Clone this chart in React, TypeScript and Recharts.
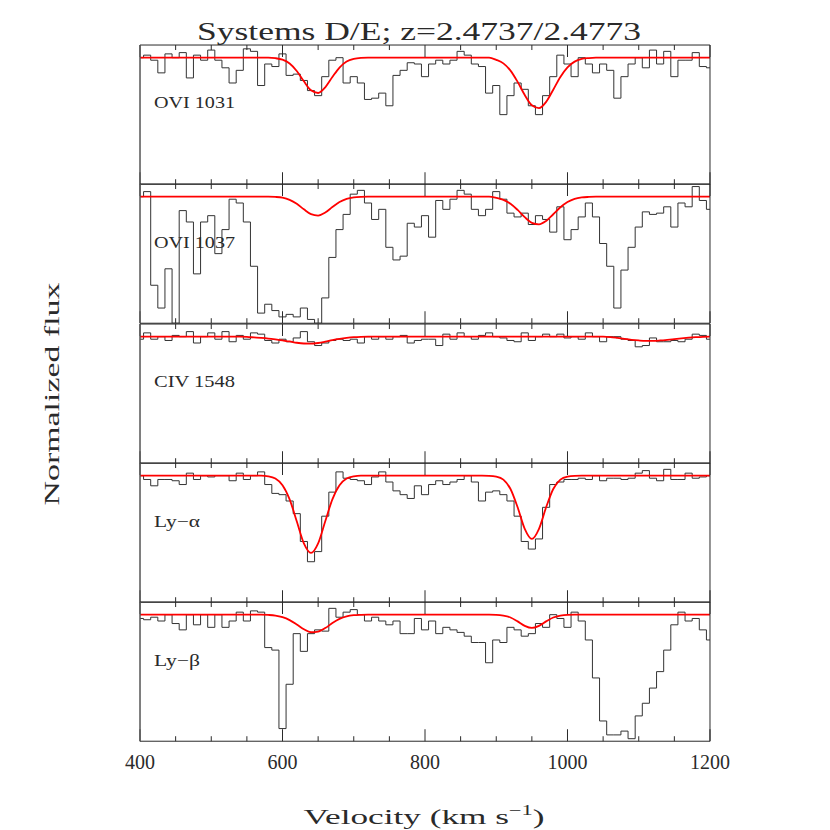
import { LineChart, Line, XAxis, YAxis } from 'recharts';

// ── data ──────────────────────────────────────────────────────────────────────

const VELOCITY = [
  400, 410, 420, 430, 440, 450, 460, 470, 480, 490,
  500, 510, 520, 530, 540, 550, 560, 570, 580, 590,
  600, 610, 620, 630, 640, 650, 660, 670, 680, 690,
  700, 710, 720, 730, 740, 750, 760, 770, 780, 790,
  800, 810, 820, 830, 840, 850, 860, 870, 880, 890,
  900, 910, 920, 930, 940, 950, 960, 970, 980, 990,
  1000, 1010, 1020, 1030, 1040, 1050, 1060, 1070, 1080, 1090,
  1100, 1110, 1120, 1130, 1140, 1150, 1160, 1170, 1180, 1190,
  1200,
];

const MINOR_TICKS = [450, 500, 550, 650, 700, 750, 850, 900, 950, 1050, 1100, 1150];
const MAJOR_TICKS = [400, 600, 800, 1000, 1200];

// OVI 1031
const FLUX_OVI1031 = [
  1.0, 1.02, 0.98, 0.88, 1.03, 1.0, 1.04, 0.84, 1.02, 0.98,
  1.06, 0.98, 0.92, 0.8, 0.9, 1.07, 1.05, 0.78, 0.95, 0.93,
  1.03, 0.86, 0.87, 0.82, 0.74, 0.7, 0.85, 0.98, 1.0, 0.8,
  0.85, 0.8, 0.67, 0.68, 0.72, 0.62, 0.86, 0.9, 0.96, 0.95,
  0.85, 0.95, 0.98, 0.95, 0.98, 1.05, 1.02, 0.95, 0.93, 0.72,
  0.78, 0.55, 0.7, 0.8, 0.75, 0.62, 0.55, 0.7, 0.85, 1.02,
  0.95, 0.85, 1.0, 0.95, 0.88, 0.95, 0.9, 0.68, 0.85, 0.95,
  1.0, 0.92, 1.06, 0.95, 1.05, 0.85, 0.98, 0.98, 1.04, 0.93,
  0.92,
];
const MODEL_OVI1031 = [
  1, 1, 1, 1, 1, 1, 1, 1, 1, 1,
  1, 1, 1, 1, 1, 1, 1, 1, 1, 0.996,
  0.984, 0.954, 0.895, 0.813, 0.742, 0.721, 0.766, 0.847, 0.922, 0.969,
  0.99, 0.998, 1, 1, 1, 1, 1, 1, 1, 1,
  1, 1, 1, 1, 1, 1, 1, 1, 1, 1,
  0.983, 0.955, 0.898, 0.809, 0.705, 0.624, 0.602, 0.651, 0.747, 0.848,
  0.924, 0.969, 0.99, 0.997, 1, 1, 1, 1, 1, 1,
  1, 1, 1, 1, 1, 1, 1, 1, 1, 1,
  1,
];

// OVI 1037
const FLUX_OVI1037 = [
  1.0, 1.04, 0.3, 0.12, 0.43, 0.0, 0.89, 0.8, 0.39, 0.8,
  0.85, 0.55, 0.74, 0.98, 0.95, 0.8, 0.45, 0.08, 0.15, 0.1,
  0.05, 0.07, 0.05, 0.12, 0.03, 0.0, 0.2, 0.52, 0.74, 0.86,
  1.02, 1.05, 0.95, 0.82, 0.9, 0.6, 0.5, 0.53, 0.79, 0.76,
  0.85, 0.68, 0.97, 0.9, 0.98, 1.05, 1.02, 0.9, 0.85, 0.9,
  1.04, 0.98, 0.87, 0.84, 0.87, 0.78, 0.85, 0.82, 0.72, 0.92,
  0.66, 0.74, 0.84, 0.95, 0.84, 0.63, 0.45, 0.12, 0.42, 0.6,
  0.76, 0.88, 0.86, 0.87, 0.92, 0.76, 0.95, 0.92, 1.08, 0.97,
  0.9,
];
const MODEL_OVI1037 = [
  1, 1, 1, 1, 1, 1, 1, 1, 1, 1,
  1, 1, 1, 1, 1, 1, 1, 1, 1, 0.998,
  0.992, 0.975, 0.944, 0.9, 0.862, 0.851, 0.875, 0.918, 0.958, 0.983,
  0.995, 0.999, 1, 1, 1, 1, 1, 1, 1, 1,
  1, 1, 1, 1, 1, 1, 1, 1, 1, 1,
  0.991, 0.975, 0.944, 0.895, 0.838, 0.793, 0.781, 0.808, 0.861, 0.916,
  0.958, 0.983, 0.994, 0.998, 1, 1, 1, 1, 1, 1,
  1, 1, 1, 1, 1, 1, 1, 1, 1, 1,
  1,
];

// CIV 1548
const FLUX_CIV1548 = [
  0.98, 1.03, 0.98, 1.0, 0.97, 1.01, 1.0, 1.04, 0.95, 1.0,
  1.03, 0.98, 1.04, 0.96, 1.01, 0.98, 1.03, 1.02, 0.97, 0.95,
  0.98, 0.96, 0.99, 1.04, 0.96, 0.93, 0.95, 0.97, 0.98, 0.97,
  0.98, 0.95, 1.0, 0.98, 1.0, 0.98, 1.0, 1.01, 0.95, 0.97,
  0.98, 0.98, 0.93, 1.02, 0.98, 1.03, 1.0, 0.98, 1.01, 1.03,
  1.0, 0.99, 0.97, 0.96, 1.03, 0.97, 1.0, 1.02, 1.0, 1.02,
  0.99, 1.0, 0.98, 1.03, 1.0, 0.96, 1.0, 1.0, 0.98, 0.97,
  0.92, 0.93, 0.99, 0.96, 0.96, 0.97, 0.96, 0.98, 1.02, 1.01,
  0.98,
];
const MODEL_CIV1548 = [
  1, 1, 1, 1, 1, 1, 1, 1, 1, 1,
  1, 1, 1, 1, 1, 0.998, 0.994, 0.99, 0.985, 0.978,
  0.97, 0.962, 0.952, 0.946, 0.945, 0.95, 0.96, 0.972, 0.982, 0.99,
  0.996, 0.999, 1, 1, 1, 1, 1, 1, 1, 1,
  1, 1, 1, 1, 1, 1, 1, 1, 1, 1,
  1, 1, 1, 1, 1, 1, 1, 1, 1, 1,
  1, 1, 1, 1, 1, 1, 0.997, 0.99, 0.982, 0.975,
  0.97, 0.967, 0.967, 0.97, 0.975, 0.981, 0.987, 0.992, 0.996, 0.999,
  1,
];

// Ly-alpha
const FLUX_LYA = [
  1.0, 0.97, 0.92, 0.97, 0.97, 0.96, 0.93, 1.02, 0.97, 1.0,
  0.99, 1.0, 1.0, 0.96, 1.02, 0.97, 1.0, 1.03, 0.93, 0.86,
  0.85, 0.8, 0.7, 0.48, 0.32, 0.4, 0.68, 0.87, 1.03, 0.98,
  0.97, 0.96, 0.93, 0.99, 1.03, 0.95, 0.88, 0.85, 0.82, 0.92,
  0.85, 0.93, 0.96, 0.93, 0.95, 0.97, 1.0, 0.95, 0.8, 0.87,
  0.88, 0.85, 0.8, 0.68, 0.48, 0.42, 0.5, 0.75, 0.93, 0.95,
  0.97, 0.97, 0.98, 0.97, 1.0, 0.96, 0.98, 0.98, 0.97, 0.98,
  1.02, 1.04, 0.98, 0.96, 1.05, 0.97, 0.97, 1.02, 0.98, 0.99,
  1.0,
];
const MODEL_LYA = [
  1, 1, 1, 1, 1, 1, 1, 1, 1, 1,
  1, 1, 1, 1, 1, 1, 1, 1, 0.995, 0.977,
  0.925, 0.813, 0.64, 0.465, 0.39, 0.465, 0.64, 0.813, 0.925, 0.977,
  0.995, 1, 1, 1, 1, 1, 1, 1, 1, 1,
  1, 1, 1, 1, 1, 1, 1, 1, 1, 0.999,
  0.993, 0.969, 0.895, 0.75, 0.58, 0.5, 0.58, 0.75, 0.895, 0.969,
  0.993, 0.999, 1, 1, 1, 1, 1, 1, 1, 1,
  1, 1, 1, 1, 1, 1, 1, 1, 1, 1,
  1,
];

// Ly-beta
const FLUX_LYB = [
  0.97, 0.96, 0.98, 0.95, 1.0, 0.93, 0.88, 1.0, 0.92, 1.0,
  0.9, 1.0, 0.9, 0.95, 1.02, 0.95, 1.03, 1.02, 0.74, 0.72,
  0.1, 0.45, 0.85, 0.71, 0.85, 0.88, 0.87, 1.05, 0.98, 1.02,
  1.04, 1.0, 0.95, 0.98, 0.95, 0.92, 0.95, 0.85, 0.85, 0.97,
  0.88, 0.95, 0.85, 0.9, 0.88, 0.86, 0.83, 0.78, 0.78, 0.62,
  0.8, 0.78, 0.9, 0.88, 0.83, 0.85, 0.93, 0.9, 1.0, 0.97,
  0.9, 1.02, 0.95, 0.8, 0.5, 0.16, 0.05, 0.05, 0.08, 0.02,
  0.2, 0.3, 0.42, 0.55, 0.72, 0.92, 1.02, 0.95, 0.97, 0.88,
  0.8,
];
const MODEL_LYB = [
  1, 1, 1, 1, 1, 1, 1, 1, 1, 1,
  1, 1, 1, 1, 1, 1, 1, 1, 0.998, 0.993,
  0.98, 0.957, 0.923, 0.885, 0.861, 0.866, 0.894, 0.934, 0.967, 0.987,
  0.996, 0.999, 1, 1, 1, 1, 1, 1, 1, 1,
  1, 1, 1, 1, 1, 1, 1, 1, 1, 1,
  0.999, 0.993, 0.978, 0.947, 0.912, 0.895, 0.912, 0.947, 0.978, 0.993,
  0.999, 1, 1, 1, 1, 1, 1, 1, 1, 1,
  1, 1, 1, 1, 1, 1, 1, 1, 1, 1,
  1,
];

const PANELS = [
  { label: 'OVI 1031', labelW: 81, flux: FLUX_OVI1031, model: MODEL_OVI1031, labelY: 108 },
  { label: 'OVI 1037', labelW: 81, flux: FLUX_OVI1037, model: MODEL_OVI1037, labelY: 248 },
  { label: 'CIV 1548', labelW: 81, flux: FLUX_CIV1548, model: MODEL_CIV1548, labelY: 387 },
  { label: 'Ly\u2212\u03B1', labelW: 46, flux: FLUX_LYA, model: MODEL_LYA, labelY: 527 },
  { label: 'Ly\u2212\u03B2', labelW: 46, flux: FLUX_LYB, model: MODEL_LYB, labelY: 666 },
];

// ── layout ────────────────────────────────────────────────────────────────────

const FONT = '"Liberation Serif", "DejaVu Serif", serif';
const INK = '#2a2a2a';
const PLOT_LEFT = 140;
const PLOT_W = 570;
const PANEL_TOP = 45;
const PANEL_H = 139.25;
const PAD_X = 30;
const PAD_Y = 6;
const LABEL_SPACE = 40;
const THIN = 0.01; // axes need a non-zero size to be drawn

const noLabel = () => <g />;

function tickLabel(props: any) {
  return (
    <text x={props.x} y={props.y + 27.5} textAnchor="middle"
      fontFamily={FONT} fontSize={20} fill={INK}>
      {props.payload.value}
    </text>
  );
}

function Panel({ index }: { index: number }) {
  const p = PANELS[index];
  const last = index === PANELS.length - 1;
  const rows = VELOCITY.map((v, i) => ({ v, flux: p.flux[i], model: p.model[i] }));
  const extra = last ? LABEL_SPACE : 0;
  const axisCommon = {
    type: 'number' as const,
    domain: [400, 1200],
    dataKey: 'v',
    allowDataOverflow: true,
    height: THIN,
    interval: 0,
    tick: noLabel,
    tickLine: { stroke: INK },
  };

  return (
    <div style={{ position: 'absolute', left: PLOT_LEFT - PAD_X, top: PANEL_TOP + index * PANEL_H - PAD_Y }}>
      <LineChart
        width={PLOT_W + 2 * PAD_X}
        height={PANEL_H + 2 * PAD_Y + extra}
        data={rows}
        margin={{ top: PAD_Y, right: PAD_X, bottom: PAD_Y + extra, left: PAD_X }}
      >
        <XAxis xAxisId="b" orientation="bottom" ticks={MINOR_TICKS} tickSize={-5} axisLine={{ stroke: INK }} {...axisCommon} />
        <XAxis xAxisId="bM" orientation="bottom" ticks={MAJOR_TICKS} tickSize={-12} axisLine={false} {...axisCommon} />
        <XAxis xAxisId="t" orientation="top" ticks={MINOR_TICKS} tickSize={-5} axisLine={{ stroke: INK }} {...axisCommon} />
        <XAxis xAxisId="tM" orientation="top" ticks={MAJOR_TICKS} tickSize={-12} axisLine={false} {...axisCommon} />
        {last && (
          <XAxis xAxisId="lab" orientation="bottom" type="number" dataKey="v" domain={[400, 1200]}
            ticks={MAJOR_TICKS} interval={0} height={THIN} tickSize={0} tickMargin={0} tickLine={false}
            axisLine={false} tick={tickLabel} allowDataOverflow />
        )}
        <YAxis yAxisId="l" domain={[0, 1.1]} width={THIN} tick={false} tickLine={false}
          axisLine={{ stroke: '#555', strokeWidth: 1.5 }} allowDataOverflow />
        <YAxis yAxisId="r" orientation="right" domain={[0, 1.1]} width={THIN} tick={false}
          tickLine={false} axisLine={{ stroke: INK }} allowDataOverflow />
        <Line xAxisId="b" yAxisId="l" dataKey="flux" type="step" stroke="#333"
          strokeWidth={1} dot={false} isAnimationActive={false} />
        <Line xAxisId="b" yAxisId="l" dataKey="model" type="monotone" stroke="#ff0000"
          strokeWidth={1.8} dot={false} isAnimationActive={false} />
      </LineChart>
    </div>
  );
}

export default function App() {
  return (
    <div style={{ position: 'absolute', left: 0, top: 0, width: 830, height: 830, background: '#fff' }}>
      {PANELS.map((_, i) => <Panel key={i} index={i} />)}
      <svg width={830} height={830} style={{ position: 'absolute', left: 0, top: 0, pointerEvents: 'none' }}>
        <text x={419} y={40} textAnchor="middle" fontFamily={FONT} fontSize={26} fill={INK}
          textLength={444} lengthAdjust="spacingAndGlyphs">
          Systems D/E; z=2.4737/2.4773
        </text>
        <text x={424} y={824} textAnchor="middle" fontFamily={FONT} fontSize={22} fill={INK}
          textLength={241} lengthAdjust="spacingAndGlyphs">
          Velocity (km s<tspan fontSize={14} dy={-9}>{'\u22121'}</tspan><tspan dy={9}>)</tspan>
        </text>
        <text transform="translate(59,394) rotate(-90)" textAnchor="middle" fontFamily={FONT}
          fontSize={22} fill={INK} textLength={223} lengthAdjust="spacingAndGlyphs">
          Normalized flux
        </text>
        {PANELS.map((p) => (
          <text key={p.label} x={154} y={p.labelY} fontFamily={FONT} fontSize={17} fill={INK}
            textLength={p.labelW} lengthAdjust="spacingAndGlyphs">
            {p.label}
          </text>
        ))}
      </svg>
    </div>
  );
}
